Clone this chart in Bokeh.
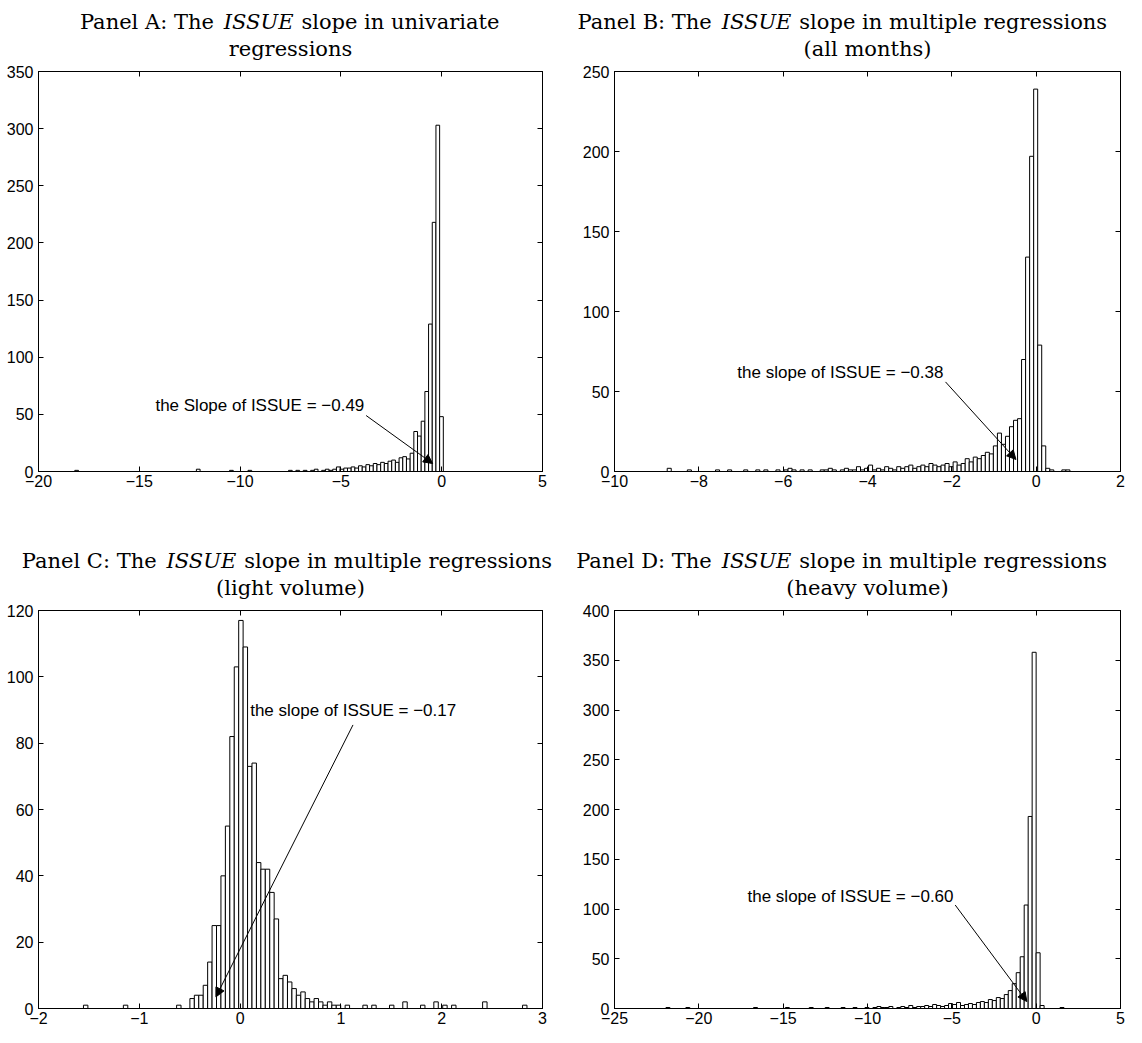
import numpy as np
from bokeh.plotting import figure
from bokeh.models import Label, Arrow, NormalHead, LinearAxis, FixedTicker, Range1d
from bokeh.layouts import column, row
from bokeh.embed import file_html
from bokeh.resources import INLINE

# ---------------- data ----------------
# Panel A: ISSUE slope, univariate regressions (100 bins between a_lo and a_hi)
a_lo, a_hi = -18.2, 0.08
a_counts = [1, 0, 0, 0, 0, 0, 0, 0, 0, 0, 0, 0, 0, 0, 0, 0, 0, 0, 0, 0,
            0, 0, 0, 0, 0, 0, 0, 0, 0, 0, 0, 0, 0, 2, 0, 0, 0, 0, 0, 0,
            0, 0, 1, 0, 0, 0, 0, 1, 0, 0, 0, 0, 0, 0, 0, 0, 0, 0, 1, 0,
            1, 0, 1, 0, 1, 2, 0, 1, 2, 1, 2, 4, 2, 3, 3, 4, 3, 5, 4, 6,
            5, 7, 6, 8, 7, 9, 10, 8, 12, 13, 11, 16, 35, 31, 44, 70, 129, 218, 303, 48]
a_xticks = [-20, -15, -10, -5, 0, 5]
a_xlabels = ["\u221220", "\u221215", "\u221210", "\u22125", "0", "5"]
a_yticks = [0, 50, 100, 150, 200, 250, 300, 350]
a_note = "the Slope of ISSUE = \u22120.49"

# Panel B: multiple regressions (all months)
b_lo, b_hi = -8.75, 0.80
b_counts = [2, 0, 0, 0, 0, 1, 0, 0, 0, 0, 0, 0, 1, 0, 0, 1, 0, 0, 0, 1,
            0, 0, 1, 0, 1, 0, 0, 1, 0, 1, 2, 1, 0, 1, 0, 1, 0, 0, 1, 1,
            2, 1, 0, 1, 2, 1, 1, 3, 1, 2, 4, 1, 2, 1, 3, 2, 1, 3, 2, 3,
            4, 2, 3, 4, 3, 5, 4, 3, 4, 5, 3, 6, 4, 5, 8, 6, 9, 8, 10, 12,
            11, 16, 24, 17, 22, 28, 32, 33, 70, 134, 197, 239, 79, 16, 2, 1, 0, 0, 1, 1]
b_xticks = [-10, -8, -6, -4, -2, 0, 2]
b_xlabels = ["\u221210", "\u22128", "\u22126", "\u22124", "\u22122", "0", "2"]
b_yticks = [0, 50, 100, 150, 200, 250]
b_note = "the slope of ISSUE = \u22120.38"

# Panel C: multiple regressions (light volume)
c_lo, c_hi = -1.554, 2.846
c_counts = [1, 0, 0, 0, 0, 0, 0, 0, 0, 1, 0, 0, 0, 0, 0, 0, 0, 0, 0, 0,
            0, 1, 0, 0, 3, 4, 4, 7, 14, 25, 25, 40, 55, 82, 103, 117, 109, 73, 74, 44,
            42, 42, 35, 27, 9, 10, 8, 6, 4, 5, 3, 2, 3, 2, 1, 2, 1, 1, 0, 1,
            0, 0, 0, 1, 0, 1, 0, 0, 0, 1, 0, 0, 2, 0, 0, 0, 1, 0, 0, 2,
            0, 1, 0, 1, 0, 0, 0, 0, 0, 0, 2, 0, 0, 0, 0, 0, 0, 0, 0, 1]
c_xticks = [-2, -1, 0, 1, 2, 3]
c_xlabels = ["\u22122", "\u22121", "0", "1", "2", "3"]
c_yticks = [0, 20, 40, 60, 80, 100, 120]
c_note = "the slope of ISSUE = \u22120.17"

# Panel D: multiple regressions (heavy volume)
d_lo, d_hi = -21.95, 1.65
d_counts = [1, 0, 0, 0, 0, 1, 0, 0, 0, 0, 0, 0, 0, 0, 0, 0, 0, 0, 0, 0,
            0, 0, 1, 0, 0, 0, 0, 0, 0, 0, 1, 0, 0, 0, 0, 0, 1, 0, 0, 0,
            1, 0, 0, 0, 1, 0, 0, 1, 0, 0, 1, 0, 1, 2, 1, 1, 2, 0, 1, 2,
            1, 3, 1, 2, 2, 3, 2, 4, 3, 2, 3, 5, 4, 6, 3, 4, 5, 4, 6, 7,
            6, 9, 8, 11, 10, 14, 18, 25, 36, 52, 104, 193, 358, 56, 3, 0, 0, 0, 0, 1]
d_xticks = [-25, -20, -15, -10, -5, 0, 5]
d_xlabels = ["\u221225", "\u221220", "\u221215", "\u221210", "\u22125", "0", "5"]
d_yticks = [0, 50, 100, 150, 200, 250, 300, 350, 400]
d_note = "the slope of ISSUE = \u22120.60"

titles_top = [("Panel A: The", "ISSUE", "slope in univariate", "regressions"),
              ("Panel B: The", "ISSUE", "slope in multiple regressions", "(all months)")]
titles_bot = [("Panel C: The", "ISSUE", "slope in multiple regressions", "(light volume)"),
              ("Panel D: The", "ISSUE", "slope in multiple regressions", "(heavy volume)")]

# ---------------- styling helpers ----------------
SANS = "Liberation Sans"
SERIF = "DejaVu Serif"
TSIZE = 21
CW = {' ': .318, 'a': .596, 'b': .640, 'c': .560, 'd': .640, 'e': .592, 'f': .370, 'g': .640,
      'h': .644, 'i': .320, 'l': .320, 'm': .948, 'n': .644, 'o': .602, 'p': .640, 'r': .478,
      's': .513, 't': .402, 'u': .644, 'v': .565, 'w': .856, 'y': .565, ':': .337, '(': .390,
      ')': .390, 'A': .722, 'B': .735, 'C': .765, 'D': .802, 'P': .675, 'T': .685, 'I': .397,
      'S': .685, 'U': .812, 'E': .730}


def tw(s):
    return sum(CW.get(ch, 0.6) for ch in s) * TSIZE * 1.05


# layout geometry (pixels)
LW, LBL, LBR = 572, 38, 30      # left column figure width and borders
RW, RBL, RBR = 554, 42, 6       # right column
TOP_T, BOT_T = 65, 93           # title strip heights
BT = 6                          # panel border above the frame
FULLW = LW + RW


def axis(ticks, labels, visible_labels=True, standoff=5):
    ax = LinearAxis(ticker=FixedTicker(ticks=ticks),
                    major_tick_in=5, major_tick_out=0,
                    minor_tick_line_color=None,
                    axis_line_color="black", major_tick_line_color="black",
                    major_label_text_font=SANS, major_label_text_color="black",
                    major_label_standoff=standoff)
    if visible_labels:
        ax.major_label_overrides = {t: l for t, l in zip(ticks, labels)}
        ax.major_label_text_font_size = "16px"
    else:
        ax.major_label_overrides = {t: "" for t in ticks}
        ax.major_label_text_font_size = "0px"
        ax.major_label_standoff = 0
    return ax


def title_strip(height, specs):
    t = figure(width=FULLW, height=height, output_backend="svg", toolbar_location=None,
               x_range=Range1d(0, FULLW), y_range=Range1d(0, height),
               min_border=0, x_axis_type=None, y_axis_type=None)
    t.outline_line_color = None
    t.background_fill_color = "white"
    t.border_fill_color = "white"
    centers = [LBL + (LW - LBL - LBR) / 2, LW + RBL + (RW - RBL - RBR) / 2]
    common = dict(text_font=SERIF, text_font_size=f"{TSIZE}px", text_color="black",
                  text_baseline="alphabetic")
    y1 = 50 - BT   # first line baseline, 50 px above the panel frame
    y2 = 23 - BT   # second line baseline
    for cx, (prefix, word, suffix, line2) in zip(centers, specs):
        gl, gr = 0.30 * TSIZE + 2, 0.30 * TSIZE
        wl, wi, wr = tw(prefix), tw(word), tw(suffix)
        total = wl + gl + wi + gr + wr
        left = cx - total / 2
        left = min(left, FULLW - 4 - total)
        xi = left + wl + gl
        t.add_layout(Label(x=xi - gl, y=y1, text=prefix, text_align="right", **common))
        t.add_layout(Label(x=xi + wi / 2, y=y1, text=word, text_align="center",
                           text_font_style="italic", **common))
        t.add_layout(Label(x=xi + wi + gr, y=y1, text=suffix, text_align="left", **common))
        t.add_layout(Label(x=cx, y=y2, text=line2, text_align="center", **common))
    return t


def panel(width, height, bl, br, bt, bb, xr, yr, xt, xl, yt, lo, hi, counts):
    p = figure(width=width, height=height, output_backend="svg", toolbar_location=None,
               x_range=Range1d(*xr), y_range=Range1d(*yr),
               min_border_left=bl, min_border_right=br, min_border_top=bt, min_border_bottom=bb,
               x_axis_type=None, y_axis_type=None)
    p.background_fill_color = "white"
    p.border_fill_color = "white"
    p.outline_line_color = "black"
    p.outline_line_width = 1
    p.add_layout(axis(xt, xl, standoff=3), "below")
    p.add_layout(axis(yt, [str(t) for t in yt]), "left")
    p.add_layout(axis(xt, xl, False), "above")
    p.add_layout(axis(yt, [str(t) for t in yt], False), "right")
    e = np.linspace(lo, hi, len(counts) + 1)
    p.quad(left=e[:-1], right=e[1:], bottom=0, top=counts,
           fill_color="white", line_color="black", line_width=1)
    return p


def note(p, x, y, align, text, xs, ys, xe, ye):
    p.add_layout(Label(x=x, y=y, text=text, text_align=align, text_baseline="middle",
                       text_font=SANS, text_font_size="17px", text_color="black"))
    p.add_layout(Arrow(x_start=xs, y_start=ys, x_end=xe, y_end=ye,
                       line_color="black", line_width=1,
                       end=NormalHead(size=9, fill_color="black", line_color="black", line_width=1)))


tTop = title_strip(TOP_T, titles_top)
tBot = title_strip(BOT_T, titles_bot)

pA = panel(LW, 446, LBL, LBR, BT, 40, (-20, 5), (0, 350), a_xticks, a_xlabels, a_yticks,
           a_lo, a_hi, a_counts)
note(pA, -14.2, 58, "left", a_note, -3.75, 49, -0.45, 7)

pB = panel(RW, 446, RBL, RBR, BT, 40, (-10, 2), (0, 250), b_xticks, b_xlabels, b_yticks,
           b_lo, b_hi, b_counts)
note(pB, -2.2, 62, "right", b_note, -2.15, 56, -0.48, 7.5)

pC = panel(LW, 423, LBL, LBR, BT, 19, (-2, 3), (0, 120), c_xticks, c_xlabels, c_yticks,
           c_lo, c_hi, c_counts)
note(pC, 0.10, 90, "left", c_note, 1.12, 85.5, -0.24, 3.5)

pD = panel(RW, 423, RBL, RBR, BT, 19, (-25, 5), (0, 400), d_xticks, d_xlabels, d_yticks,
           d_lo, d_hi, d_counts)
note(pD, -4.9, 113, "right", d_note, -4.8, 104, -0.55, 7)

layout = column(tTop, row(pA, pB), tBot, row(pC, pD))
open("out.html", "w").write(file_html(layout, INLINE))
